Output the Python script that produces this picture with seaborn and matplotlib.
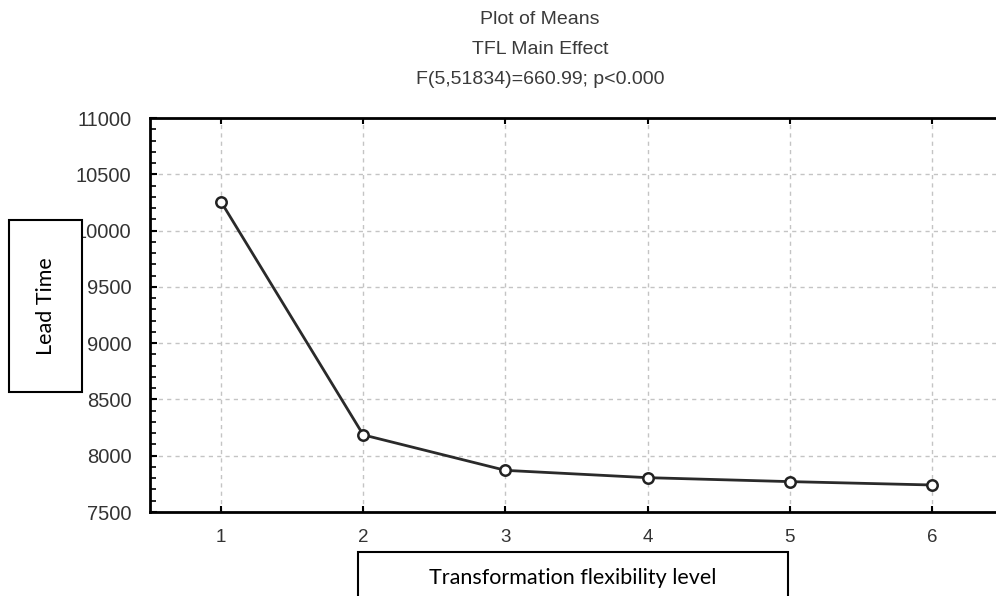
import matplotlib
matplotlib.use("Agg")
import matplotlib.pyplot as plt
from matplotlib.patches import Rectangle
from matplotlib.ticker import MultipleLocator
import seaborn as sns
import pandas as pd

# ---- data ----
levels = [1, 2, 3, 4, 5, 6]
lead_time = [10255, 8185, 7870, 7805, 7770, 7740]
y_ticks = [7500, 8000, 8500, 9000, 9500, 10000, 10500, 11000]
title_lines = ["Plot of Means", "TFL Main Effect", "F(5,51834)=660.99; p<0.000"]
x_label = "Transformation flexibility level"
y_label = "Lead Time"

df = pd.DataFrame({"TFL": levels, "Lead Time": lead_time})

sns.set_theme(style="white")
plt.rcParams["font.family"] = ["Liberation Sans", "DejaVu Sans"]

fig = plt.figure(figsize=(9.96, 5.96), dpi=100)
ax = fig.add_axes([150 / 996, 84 / 596, 853 / 996, 394 / 596])

sns.lineplot(data=df, x="TFL", y="Lead Time", ax=ax, color="#2a2a2a",
             linewidth=2.0, marker="o", markersize=7.5,
             markerfacecolor="white", markeredgecolor="#222222",
             markeredgewidth=1.8, zorder=5)

ax.set_xlim(0.5, 6.5)
ax.set_ylim(7500, 11000)
ax.set_xticks(levels)
ax.set_xticklabels([str(v) for v in levels])
ax.set_yticks(y_ticks)
ax.set_yticklabels([str(v) for v in y_ticks])
ax.yaxis.set_minor_locator(MultipleLocator(100))
ax.set_xlabel("")
ax.set_ylabel("")

ax.grid(True, which="major", color="#c4c4c4", linestyle=(0, (3, 3)), linewidth=1.0)
for s in ax.spines.values():
    s.set_color("black")
    s.set_linewidth(2.0)

ax.tick_params(axis="x", which="major", direction="in", length=4, width=1.5,
               top=True, bottom=True, color="black", pad=12,
               labelsize=13.5, labelcolor="#333333")
ax.tick_params(axis="y", which="major", direction="in", length=5, width=1.5,
               left=True, color="black", pad=13.5, labelsize=14.5,
               labelcolor="#333333")
ax.tick_params(axis="y", which="minor", direction="in", length=4, width=1.2,
               left=True, color="black")

# titles
for txt, ypx in zip(title_lines, [20, 50, 80]):
    fig.text(540 / 996, 1 - ypx / 596, txt, ha="center", va="center",
             fontsize=14, color="#3a3a3a")

# y label box
fig.add_artist(Rectangle((9 / 996, (596 - 392) / 596), 73 / 996, 172 / 596,
                         transform=fig.transFigure, facecolor="white",
                         edgecolor="black", linewidth=1.5, zorder=10))
fig.text(45.5 / 996, (596 - 306) / 596, y_label, rotation=90, ha="center",
         va="center", fontsize=15.5, color="black", zorder=11,
         family=["Lato", "DejaVu Sans"])

# x label box
fig.add_artist(Rectangle((358 / 996, -10 / 596), 430 / 996, 54 / 596,
                         transform=fig.transFigure, facecolor="white",
                         edgecolor="black", linewidth=1.5, zorder=10))
fig.text(573 / 996, (596 - 578) / 596, x_label, ha="center", va="center",
         fontsize=15.5, color="black", zorder=11, family=["Lato", "DejaVu Sans"])

fig.savefig("out.png", dpi=100)
